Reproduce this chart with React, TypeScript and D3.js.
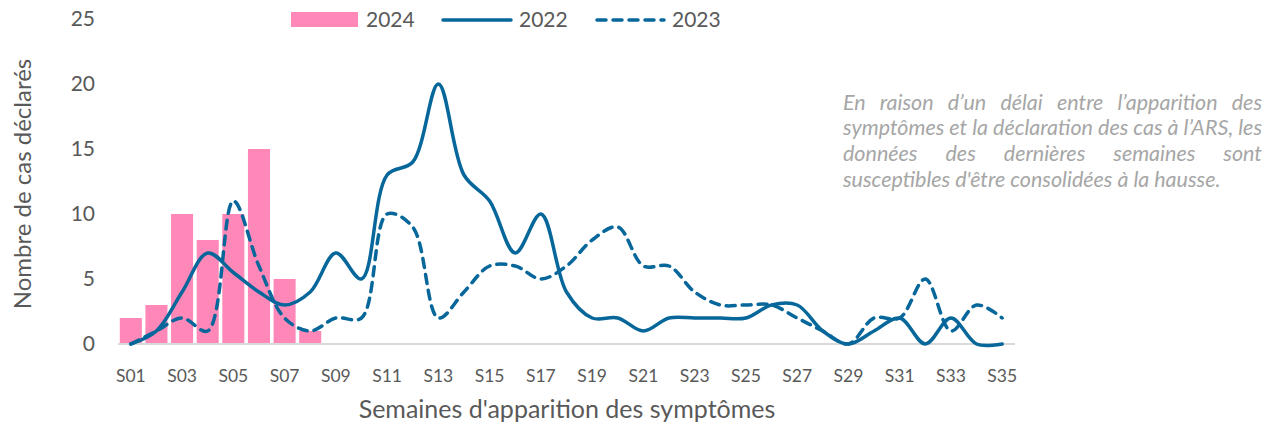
import React, { useRef, useEffect } from 'react'
import * as d3 from 'd3'

const weeks = d3.range(1, 36).map(i => 'S' + String(i).padStart(2, '0'))
const cases2024 = [2, 3, 10, 8, 10, 15, 5, 1]
const cases2022 = [0, 1, 4, 7, 5.5, 4, 3, 4, 7, 5, 13, 14, 20, 13, 11, 7, 10, 4, 2, 2, 1, 2, 2, 2, 2, 3, 3, 1, 0, 1, 2, 0, 2, 0, 0]
const cases2023 = [0, 1, 2, 1, 11, 6, 2, 1, 2, 2, 10, 9, 2, 4, 6, 6, 5, 6, 8, 9, 6, 6, 4, 3, 3, 3, 2, 1, 0, 2, 2, 5, 1, 3, 2]
const yTicks = [0, 5, 10, 15, 20, 25]
const noteLines = [
  'En raison d’un délai entre l’apparition des',
  'symptômes et la déclaration des cas à l’ARS, les',
  'données des dernières semaines sont',
  "susceptibles d'être consolidées à la hausse.",
]

const W = 1279
const H = 430
const FONT = 'Lato, "Open Sans", sans-serif'
const BLUE = '#07679a'
const PINK = '#ff88b8'
const GREY = '#595959'

export default function App() {
  const ref = useRef<SVGSVGElement>(null)

  useEffect(() => {
    const svg = d3.select(ref.current)
    svg.selectAll('*').remove()

    const x = d3.scaleBand<string>().domain(weeks).range([118, 1015]).paddingInner(0.14).paddingOuter(0.07)
    const y = d3.scaleLinear().domain([0, 25]).range([344, 19])
    const cx = (d: string) => (x(d) as number) + x.bandwidth() / 2

    // y tick labels
    svg
      .append('g')
      .selectAll('text')
      .data(yTicks)
      .enter()
      .append('text')
      .attr('x', 95)
      .attr('y', d => y(d))
      .attr('dy', '0.35em')
      .attr('text-anchor', 'end')
      .attr('font-family', FONT)
      .attr('font-size', 21)
      .attr('fill', GREY)
      .text(d => d)

    // bars 2024
    svg
      .append('g')
      .selectAll('rect')
      .data(cases2024)
      .enter()
      .append('rect')
      .attr('x', (d, i) => x(weeks[i]) as number)
      .attr('y', d => y(d))
      .attr('width', x.bandwidth())
      .attr('height', d => y(0) - y(d))
      .attr('fill', PINK)

    // baseline
    svg
      .append('line')
      .attr('x1', 118)
      .attr('x2', 1015)
      .attr('y1', y(0))
      .attr('y2', y(0))
      .attr('stroke', '#d9d9d9')
      .attr('stroke-width', 2)

    // x tick labels, every other week
    svg
      .append('g')
      .selectAll('text')
      .data(weeks.filter((d, i) => i % 2 === 0))
      .enter()
      .append('text')
      .attr('x', d => cx(d))
      .attr('y', 382)
      .attr('text-anchor', 'middle')
      .attr('font-family', FONT)
      .attr('font-size', 17.5)
      .attr('fill', GREY)
      .text(d => d)

    const line = d3
      .line<number>()
      .x((d, i) => cx(weeks[i]))
      .y(d => y(d))
      .curve(d3.curveCatmullRom.alpha(0.5))

    svg
      .append('path')
      .attr('d', line(cases2022))
      .attr('fill', 'none')
      .attr('stroke', BLUE)
      .attr('stroke-width', 3.5)
      .attr('stroke-linecap', 'round')

    svg
      .append('path')
      .attr('d', line(cases2023))
      .attr('fill', 'none')
      .attr('stroke', BLUE)
      .attr('stroke-width', 3.5)
      .attr('stroke-dasharray', '9 7')
      .attr('stroke-linecap', 'round')

    // legend
    const lg = svg.append('g').attr('font-family', FONT).attr('font-size', 21).attr('fill', GREY)
    lg.append('rect').attr('x', 291).attr('y', 12).attr('width', 67).attr('height', 15).attr('fill', PINK)
    lg.append('text').attr('x', 366).attr('y', 20).attr('dy', '0.35em').text('2024')
    lg.append('line').attr('x1', 443).attr('x2', 511).attr('y1', 20).attr('y2', 20)
      .attr('stroke', BLUE).attr('stroke-width', 3.5).attr('stroke-linecap', 'round')
    lg.append('text').attr('x', 519).attr('y', 20).attr('dy', '0.35em').text('2022')
    lg.append('line').attr('x1', 597).attr('x2', 664).attr('y1', 20).attr('y2', 20)
      .attr('stroke', BLUE).attr('stroke-width', 3.5).attr('stroke-dasharray', '9 7').attr('stroke-linecap', 'round')
    lg.append('text').attr('x', 672).attr('y', 20).attr('dy', '0.35em').text('2023')

    // axis titles
    svg
      .append('text')
      .attr('transform', 'translate(23,184) rotate(-90)')
      .attr('dy', '0.35em')
      .attr('text-anchor', 'middle')
      .attr('font-family', FONT)
      .attr('font-size', 24)
      .attr('fill', GREY)
      .text('Nombre de cas déclarés')

    svg
      .append('text')
      .attr('x', 567)
      .attr('y', 418)
      .attr('text-anchor', 'middle')
      .attr('font-family', FONT)
      .attr('font-size', 25)
      .attr('fill', GREY)
      .text("Semaines d'apparition des symptômes")

    // justified note
    const left = 843
    const right = 1262
    const note = svg.append('g').attr('font-family', FONT).attr('font-size', 21.5)
      .attr('font-style', 'italic').attr('fill', '#a6a6a6')
    noteLines.forEach((ln, li) => {
      const by = 102 + li * 25.7
      const words = ln.split(' ')
      const nodes = words.map(w =>
        note.append('text').attr('y', by).attr('dy', '0.35em').text(w)
      )
      const widths = nodes.map(n => (n.node() as SVGTextElement).getComputedTextLength())
      const total = d3.sum(widths)
      const last = li === noteLines.length - 1
      const gap = last ? 5 : (right - left - total) / (words.length - 1)
      let px = left
      nodes.forEach((n, i) => {
        n.attr('x', px)
        px += widths[i] + gap
      })
    })
  }, [])

  return <svg ref={ref} width={W} height={H} style={{ display: 'block', margin: -8 }} />
}
